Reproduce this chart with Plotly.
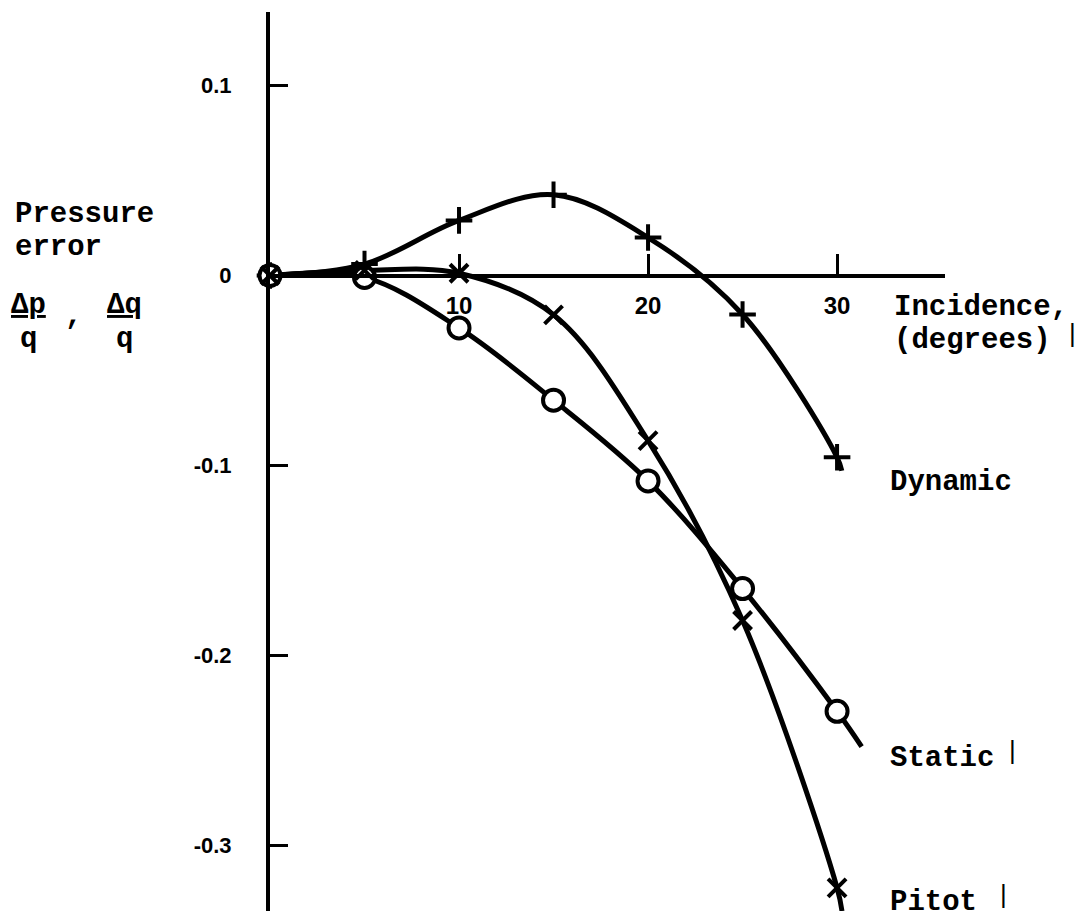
import plotly.graph_objects as go

# ---- data ----
incidence = [0, 5, 10, 15, 20, 25, 30]
dynamic = [0.0, 0.006, 0.029, 0.0425, 0.020, -0.0205, -0.0957]
static = [0.0, -0.001, -0.0276, -0.0656, -0.1081, -0.1648, -0.2294]
pitot = [0.0, 0.0027, 0.0012, -0.0207, -0.0869, -0.1816, -0.3223]

# where each drawn curve stops, just past its last measured point
dynamic_end = [30.25, -0.1028]
static_end = [31.3, -0.248]
pitot_end = [30.26, -0.3345]

x_tick_vals = [10, 20, 30]
x_tick_text = ["10", "20", "30"]
y_tick_vals = [0.1, 0.0, -0.1, -0.2, -0.3]
y_tick_text = ["0.1", "0", "-0.1", "-0.2", "-0.3"]

X_RANGE = [0, 35.71]
Y_RANGE = [-0.3345, 0.1387]

MONO = "Liberation Mono"
SANS = "Liberation Sans Narrow, Liberation Sans"

fig = go.Figure()

series = [
    ("Dynamic", dynamic, dynamic_end,
     dict(symbol="cross-thin", size=19, color="black", line=dict(color="black", width=4))),
    ("Static", static, static_end,
     dict(symbol="circle", size=21, color="white", line=dict(color="black", width=4))),
    ("Pitot", pitot, pitot_end,
     dict(symbol="x-thin", size=18, color="black", line=dict(color="black", width=4))),
]

for name, vals, end, mk in series:
    fig.add_trace(go.Scatter(
        x=incidence + [end[0]], y=vals + [end[1]], mode="lines",
        line=dict(color="black", width=5, shape="spline", smoothing=1.0),
        cliponaxis=False, showlegend=False, hoverinfo="skip", name=name))
for name, vals, end, mk in series:
    fig.add_trace(go.Scatter(
        x=incidence, y=vals, mode="markers", marker=mk,
        cliponaxis=False, showlegend=False, name=name))

x_pos = -Y_RANGE[0] / (Y_RANGE[1] - Y_RANGE[0])

# the page body has an 8px margin, so the figure is 8px smaller than the window
fig.update_layout(
    width=1078, height=912,
    margin=dict(l=262, r=141, t=4, b=9),
    paper_bgcolor="white", plot_bgcolor="white",
    showlegend=False,
    xaxis=dict(
        range=X_RANGE, anchor="free", position=x_pos,
        showline=True, linewidth=4, linecolor="black",
        ticks="inside", ticklen=20, tickwidth=3, tickcolor="black",
        tickvals=x_tick_vals, ticktext=x_tick_text,
        tickfont=dict(family=SANS, size=24, color="black", weight="bold"),
        ticklabelstandoff=8,
        showgrid=False, zeroline=False,
    ),
    yaxis=dict(
        range=Y_RANGE,
        showline=True, linewidth=4, linecolor="black",
        ticks="inside", ticklen=18, tickwidth=3, tickcolor="black",
        tickvals=y_tick_vals, ticktext=y_tick_text,
        tickfont=dict(family=SANS, size=22, color="black", weight="bold"),
        ticklabelstandoff=30,
        showgrid=False, zeroline=False,
    ),
)


def px(x):
    return (x - X_RANGE[0]) / (X_RANGE[1] - X_RANGE[0])


def py(y):
    return (y - Y_RANGE[0]) / (Y_RANGE[1] - Y_RANGE[0])


tf = dict(family=MONO, size=29, color="black", weight="bold")
labels = [
    ("Pressure", -13.6, 0.0319, "left"),
    ("error", -13.6, 0.0149, "left"),
    ("<u>Δp</u>", -12.75, -0.0159, "center"),
    ("q", -12.75, -0.0335, "center"),
    (",", -10.4, -0.0215, "center"),
    ("<u>Δq</u>", -7.72, -0.0159, "center"),
    ("q", -7.72, -0.0335, "center"),
    ("Incidence,", 32.9, -0.0170, "left"),
    ("(degrees)", 32.9, -0.0340, "left"),
    ("Dynamic", 32.7, -0.1088, "left"),
    ("Static", 32.7, -0.2543, "left"),
    ("Pitot", 32.7, -0.3300, "left"),
]
for text, x, y, xa in labels:
    fig.add_annotation(x=px(x), y=py(y), xref="paper", yref="paper", text=text,
                       showarrow=False, xanchor=xa, yanchor="middle", font=tf)

# thin vertical scan marks printed beside some labels
bar_font = dict(family="Liberation Sans", size=26, color="black")
for x, y in [(42.45, -0.0300), (39.3, -0.2500), (38.8, -0.3255)]:
    fig.add_annotation(x=px(x), y=py(y), xref="paper", yref="paper", text="|",
                       showarrow=False, xanchor="center", yanchor="middle", font=bar_font)

fig.write_html("out.html")
